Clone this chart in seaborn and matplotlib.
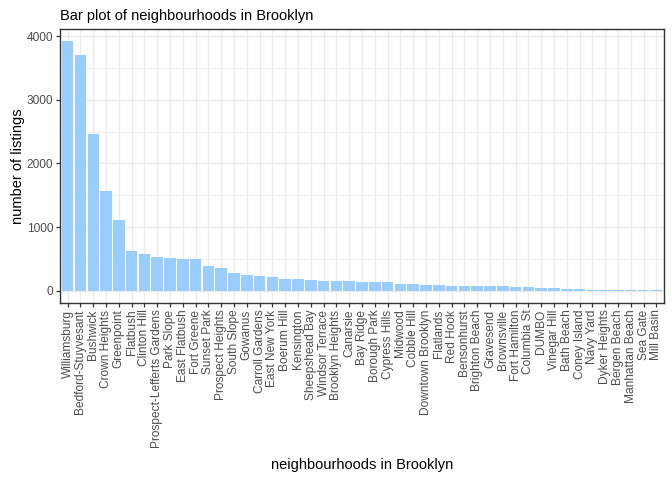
import matplotlib
matplotlib.use("Agg")
import matplotlib.pyplot as plt
from matplotlib.ticker import MultipleLocator
import seaborn as sns
import pandas as pd

neighbourhoods = [
    "Williamsburg", "Bedford-Stuyvesant", "Bushwick", "Crown Heights", "Greenpoint",
    "Flatbush", "Clinton Hill", "Prospect-Lefferts Gardens", "Park Slope", "East Flatbush",
    "Fort Greene", "Sunset Park", "Prospect Heights", "South Slope", "Gowanus",
    "Carroll Gardens", "East New York", "Boerum Hill", "Kensington", "Sheepshead Bay",
    "Windsor Terrace", "Brooklyn Heights", "Canarsie", "Bay Ridge", "Borough Park",
    "Cypress Hills", "Midwood", "Cobble Hill", "Downtown Brooklyn", "Flatlands",
    "Red Hook", "Bensonhurst", "Brighton Beach", "Gravesend", "Brownsville",
    "Fort Hamilton", "Columbia St", "DUMBO", "Vinegar Hill", "Bath Beach",
    "Coney Island", "Navy Yard", "Dyker Heights", "Bergen Beach", "Manhattan Beach",
    "Sea Gate", "Mill Basin",
]
listings = [
    3920, 3714, 2465, 1564, 1115,
    621, 572, 535, 506, 500,
    489, 390, 357, 278, 247,
    233, 218, 185, 183, 170,
    157, 154, 150, 141, 136,
    135, 109, 99, 93, 90,
    76, 73, 73, 69, 66,
    58, 51, 45, 44, 28,
    26, 12, 12, 10, 9,
    7, 5,
]

df = pd.DataFrame({"neighbourhood": neighbourhoods, "count": listings})

sns.set_theme(style="white")
plt.rcParams["font.family"] = ["Liberation Sans", "DejaVu Sans"]

W, H = 672, 480
fig = plt.figure(figsize=(W / 100, H / 100), dpi=100)
pl, pr, pt, pb = 60, 664, 29, 303
ax = fig.add_axes([pl / W, 1 - pb / H, (pr - pl) / W, (pb - pt) / H])

sns.barplot(data=df, x="neighbourhood", y="count", color="#99CCFF",
            saturation=1, width=0.9, linewidth=0, ax=ax, zorder=2)

n = len(neighbourhoods)
ax.set_xlim(-0.6, n - 1 + 0.6)
ymax = max(listings)
ax.set_ylim(-0.05 * ymax, 1.05 * ymax)

ax.yaxis.set_major_locator(MultipleLocator(1000))
ax.yaxis.set_minor_locator(MultipleLocator(500))
ax.set_axisbelow(True)
ax.grid(which="major", axis="both", color="#EBEBEB", linewidth=1.0, zorder=0)
ax.grid(which="minor", axis="y", color="#EBEBEB", linewidth=0.6, zorder=0)

for s in ax.spines.values():
    s.set_visible(True)
    s.set_color("#333333")
    s.set_linewidth(1.0)

ax.tick_params(axis="both", which="major", length=2.64, width=0.9, color="#333333",
               labelcolor="#4D4D4D", labelsize=8.6, pad=2.1,
               bottom=True, left=True)
ax.tick_params(axis="y", which="minor", length=0)
plt.setp(ax.get_xticklabels(), rotation=90, ha="center", va="top")

ax.set_xlabel("neighbourhoods in Brooklyn", fontsize=10.56, color="black")
ax.set_ylabel("number of listings", fontsize=10.56, color="black")
ax.xaxis.set_label_coords(0.5, (pb - 465) / (pb - pt))
ax.xaxis.label.set_va("center")
ax.yaxis.set_label_coords((18 - pl) / (pr - pl), 0.5)
ax.yaxis.label.set_va("center")

ax.set_title("Bar plot of neighbourhoods in Brooklyn", loc="left",
             fontsize=10.56, color="black", pad=6.5)

fig.savefig("out.png", dpi=100)
